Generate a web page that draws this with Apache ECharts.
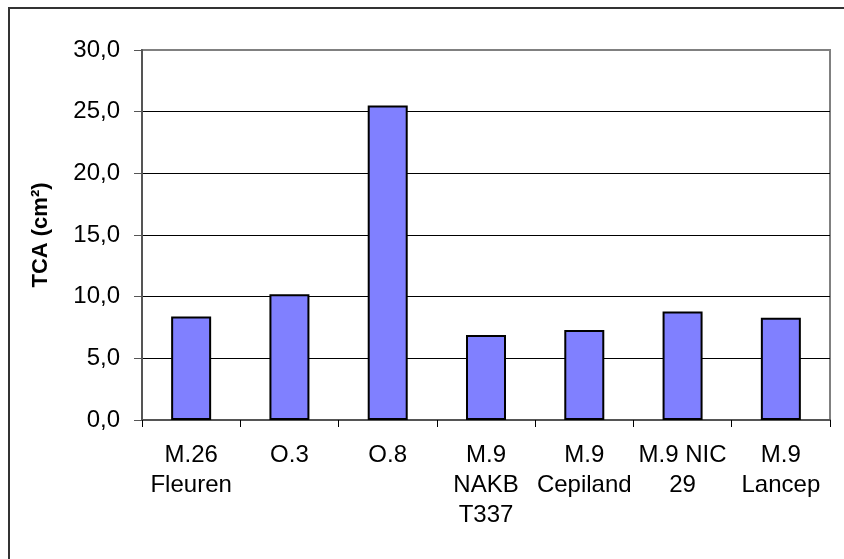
<!DOCTYPE html>
<html>
<head>
<meta charset="utf-8">
<script src="https://cdn.jsdelivr.net/npm/echarts@6/dist/echarts.min.js"></script>
<style>
html,body{margin:0;padding:0;background:#fff;}
#chart{width:844px;height:559px;}
</style>
</head>
<body>
<div id="chart"></div>
<script>
const categories = ["M.26\nFleuren", "O.3", "O.8", "M.9\nNAKB\nT337", "M.9\nCepiland", "M.9 NIC\n29", "M.9\nLancep"];
const tcaValues = [8.4, 10.2, 25.5, 6.9, 7.3, 8.8, 8.3];
const yTicks = { min: 0, max: 30, interval: 5 };
const yTitle = "TCA (cm²)";

const chart = echarts.init(document.getElementById('chart'), null, {renderer: 'canvas'});
const font = '"Liberation Sans", Arial, sans-serif';
chart.setOption({
  animation: false,
  backgroundColor: '#fff',
  graphic: [{
    type: 'rect',
    shape: {x: 9, y: 8, width: 900, height: 700},
    style: {fill: 'none', stroke: '#333', lineWidth: 2},
    z: 100
  }],
  grid: {
    left: 142, top: 50, right: 14, bottom: 139,
    show: true, borderColor: '#808080', borderWidth: 2, backgroundColor: '#fff'
  },
  xAxis: {
    type: 'category',
    data: categories,
    boundaryGap: true,
    axisLine: {lineStyle: {color: '#555', width: 2}},
    axisTick: {show: true, length: 7, lineStyle: {color: '#000', width: 1}},
    axisLabel: {
      interval: 0, color: '#000', fontFamily: font, fontSize: 24,
      lineHeight: 30, margin: 20
    }
  },
  yAxis: {
    type: 'value',
    min: yTicks.min, max: yTicks.max, interval: yTicks.interval,
    name: yTitle,
    nameLocation: 'middle',
    nameGap: 90,
    nameRotate: 90,
    nameTextStyle: {color: '#000', fontFamily: font, fontSize: 22, fontWeight: 'bold'},
    axisLine: {show: true, lineStyle: {color: '#555', width: 2}},
    axisTick: {show: true, length: 8, lineStyle: {color: '#555', width: 1}},
    axisLabel: {
      color: '#000', fontFamily: font, fontSize: 24, margin: 22,
      formatter: v => v.toFixed(1).replace('.', ',')
    },
    splitLine: {show: true, lineStyle: {color: ['#808080', '#000', '#000', '#000', '#000', '#000', '#808080'], width: 1}}
  },
  series: [{
    type: 'bar',
    data: tcaValues,
    barWidth: 40,
    itemStyle: {color: '#8080FF', borderColor: '#000', borderWidth: 2}
  }]
});
</script>
</body>
</html>
